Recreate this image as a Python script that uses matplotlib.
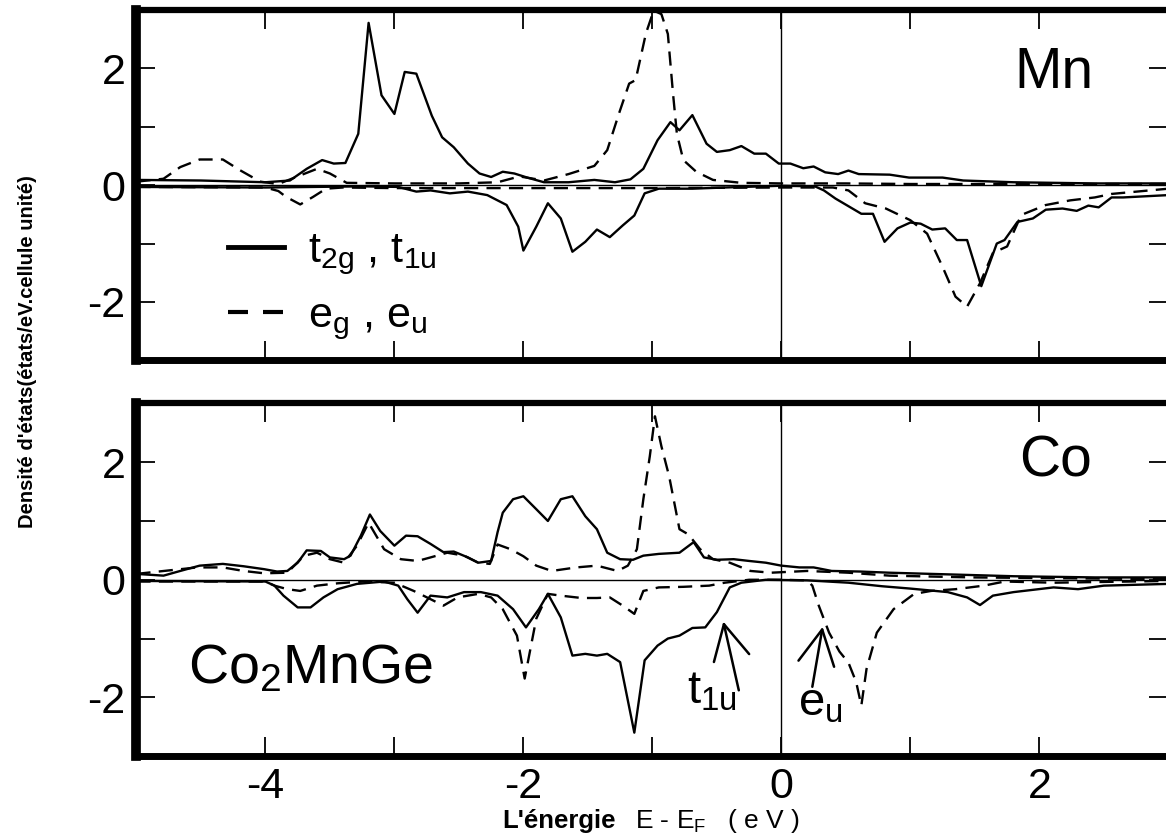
import matplotlib
matplotlib.use('Agg')
import matplotlib.pyplot as plt
from matplotlib.lines import Line2D
from matplotlib.ticker import MultipleLocator

plt.rcParams['font.family'] = ['Liberation Sans', 'DejaVu Sans']
plt.rcParams['mathtext.fontset'] = 'custom'
plt.rcParams['mathtext.rm'] = 'Liberation Sans'
plt.rcParams['mathtext.it'] = 'Liberation Sans'
plt.rcParams['mathtext.default'] = 'regular'
plt.rcParams['axes.unicode_minus'] = False

## ---- Mn : spin up (positive) and spin down (negative) ----
mn_t_up_x = [-5.0, -4.5, -4.0, -3.81, -3.68, -3.56, -3.47, -3.38, -3.28, -3.2, -3.1, -3.0, -2.92, -2.83,
             -2.71, -2.63, -2.54, -2.43, -2.34, -2.25, -2.16, -2.07, -1.97, -1.84, -1.65, -1.45, -1.29,
             -1.17, -1.07, -0.96, -0.86, -0.79, -0.69, -0.58, -0.5, -0.4, -0.31, -0.21, -0.12, -0.02,
             0.07, 0.17, 0.25, 0.34, 0.44, 0.52, 0.6, 0.84, 0.99, 1.25, 1.41, 1.8, 2.43, 3.0]
mn_t_up_y = [0.09, 0.08, 0.05, 0.08, 0.28, 0.43, 0.37, 0.38, 0.88, 2.78, 1.54, 1.22, 1.94, 1.91,
             1.19, 0.82, 0.65, 0.37, 0.2, 0.14, 0.23, 0.2, 0.13, 0.05, 0.05, 0.09, 0.05,
             0.1, 0.28, 0.77, 1.08, 0.94, 1.2, 0.71, 0.57, 0.6, 0.67, 0.54, 0.54, 0.37,
             0.37, 0.29, 0.32, 0.22, 0.19, 0.25, 0.19, 0.18, 0.13, 0.13, 0.08, 0.05, 0.03, 0.03]

mn_e_up_x = [-5.0, -4.79, -4.66, -4.51, -4.33, -4.2, -4.04, -3.9, -3.75, -3.6, -3.5, -3.37, -3.0, -2.5,
             -2.2, -2.03, -1.84, -1.65, -1.45, -1.35, -1.26, -1.18, -1.13, -1.05, -0.99, -0.93, -0.88,
             -0.84, -0.81, -0.76, -0.66, -0.53, -0.31, 0.0, 0.5, 1.0, 2.0, 3.0]
mn_e_up_y = [0.06, 0.11, 0.31, 0.44, 0.44, 0.26, 0.06, 0.02, 0.15, 0.28, 0.2, 0.04, 0.03, 0.03,
             0.05, 0.15, 0.08, 0.19, 0.33, 0.6, 1.22, 1.74, 1.8, 2.6, 2.99, 2.93, 2.59,
             1.57, 0.88, 0.43, 0.23, 0.09, 0.04, 0.03, 0.03, 0.02, 0.02, 0.02]

mn_t_dn_x = [-5.0, -4.0, -3.24, -2.97, -2.83, -2.72, -2.57, -2.43, -2.28, -2.13, -2.04, -2.0, -1.9,
             -1.81, -1.71, -1.62, -1.52, -1.43, -1.33, -1.23, -1.14, -1.06, -0.95, -0.69, -0.44, 0.0,
             0.26, 0.33, 0.42, 0.62, 0.71, 0.8, 0.9, 1.0, 1.08, 1.17, 1.27, 1.36, 1.44, 1.55, 1.67,
             1.73, 1.83, 1.95, 2.05, 2.18, 2.29, 2.38, 2.46, 2.56, 2.65, 3.0]
mn_t_dn_y = [-0.03, -0.04, -0.02, -0.03, -0.11, -0.09, -0.14, -0.11, -0.17, -0.34, -0.71, -1.12, -0.71,
             -0.31, -0.57, -1.14, -0.97, -0.76, -0.89, -0.69, -0.52, -0.14, -0.06, -0.06, -0.04, -0.01,
             -0.02, -0.09, -0.23, -0.49, -0.49, -0.97, -0.74, -0.64, -0.66, -0.76, -0.74, -0.94, -0.94,
             -1.73, -1.0, -0.94, -0.63, -0.57, -0.42, -0.4, -0.44, -0.35, -0.38, -0.21, -0.21, -0.17]

mn_e_dn_x = [-5.0, -4.0, -3.9, -3.84, -3.73, -3.63, -3.53, -3.4, -3.0, -2.0, -1.0, 0.0, 0.4, 0.52, 0.65,
             0.81, 1.0, 1.13, 1.25, 1.35, 1.44, 1.54, 1.64, 1.75, 1.86, 2.05, 2.24, 2.43, 2.56, 3.0]
mn_e_dn_y = [-0.03, -0.04, -0.1, -0.2, -0.33, -0.2, -0.06, -0.04, -0.05, -0.05, -0.05, -0.04, -0.04,
             -0.09, -0.31, -0.4, -0.6, -0.83, -1.4, -1.91, -2.08, -1.68, -1.16, -1.05, -0.51, -0.34,
             -0.26, -0.21, -0.15, -0.06]

## ---- Co ----
co_t_up_x = [-5.0, -4.79, -4.66, -4.51, -4.33, -4.17, -4.01, -3.91, -3.83, -3.75, -3.68, -3.57, -3.5,
             -3.39, -3.34, -3.26, -3.19, -3.11, -3.0, -2.91, -2.82, -2.72, -2.62, -2.54, -2.43, -2.35,
             -2.25, -2.2, -2.16, -2.08, -2.0, -1.9, -1.81, -1.71, -1.62, -1.52, -1.43, -1.35, -1.25,
             -1.15, -1.07, -0.95, -0.79, -0.68, -0.6, -0.5, -0.37, -0.25, -0.12, 0.0, 0.14, 0.25,
             0.39, 0.61, 0.84, 1.16, 1.48, 1.8, 2.43, 3.0]
co_t_up_y = [0.1, 0.07, 0.15, 0.24, 0.27, 0.23, 0.18, 0.14, 0.15, 0.29, 0.5, 0.49, 0.38,
             0.35, 0.41, 0.75, 1.11, 0.83, 0.58, 0.75, 0.74, 0.61, 0.47, 0.48, 0.38, 0.29,
             0.32, 0.81, 1.14, 1.37, 1.42, 1.2, 1.0, 1.37, 1.42, 1.08, 0.86, 0.46, 0.35,
             0.34, 0.41, 0.44, 0.46, 0.64, 0.38, 0.34, 0.35, 0.32, 0.29, 0.24, 0.21, 0.21,
             0.15, 0.14, 0.12, 0.1, 0.08, 0.06, 0.04, 0.04]

co_e_up_x = [-5.0, -4.53, -4.33, -4.17, -4.01, -3.83, -3.7, -3.6, -3.5, -3.39, -3.29, -3.2, -3.08,
             -2.95, -2.82, -2.72, -2.59, -2.46, -2.35, -2.26, -2.2, -2.1, -2.0, -1.9, -1.78, -1.59,
             -1.43, -1.27, -1.19, -1.12, -1.07, -1.02, -0.98, -0.93, -0.87, -0.79, -0.72, -0.63,
             -0.53, -0.4, -0.24, -0.08, 0.2, 0.52, 0.84, 1.48, 3.0]
co_e_up_y = [0.1, 0.21, 0.21, 0.15, 0.11, 0.12, 0.41, 0.46, 0.35, 0.29, 0.58, 0.97, 0.52,
             0.35, 0.32, 0.38, 0.46, 0.41, 0.29, 0.27, 0.6, 0.52, 0.4, 0.24, 0.15, 0.21,
             0.24, 0.15, 0.24, 0.52, 1.37, 2.1, 2.78, 2.27, 1.76, 0.86, 0.77, 0.52,
             0.35, 0.29, 0.15, 0.12, 0.15, 0.12, 0.07, 0.04, 0.01]

co_t_dn_x = [-5.0, -4.0, -3.93, -3.86, -3.75, -3.65, -3.55, -3.44, -3.29, -3.08, -2.97, -2.9, -2.82,
             -2.72, -2.59, -2.46, -2.33, -2.2, -2.08, -1.98, -1.88, -1.81, -1.71, -1.62, -1.52, -1.43,
             -1.35, -1.25, -1.14, -1.06, -0.96, -0.88, -0.79, -0.69, -0.59, -0.5, -0.4, -0.31, -0.12,
             0.2, 0.52, 0.78, 1.0, 1.29, 1.44, 1.54, 1.64, 1.8, 2.11, 2.3, 2.5, 3.0]
co_t_dn_y = [-0.02, -0.03, -0.1, -0.27, -0.47, -0.47, -0.3, -0.16, -0.07, -0.03, -0.1, -0.33, -0.56,
             -0.27, -0.3, -0.21, -0.21, -0.27, -0.5, -0.81, -0.5, -0.24, -0.64, -1.29, -1.26, -1.29,
             -1.26, -1.4, -2.6, -1.37, -1.12, -1.0, -0.95, -0.82, -0.81, -0.55, -0.13, -0.05, 0.0,
             -0.01, -0.05, -0.11, -0.15, -0.21, -0.3, -0.43, -0.27, -0.21, -0.13, -0.16, -0.1, -0.07]

co_e_dn_x = [-5.0, -4.0, -3.93, -3.83, -3.73, -3.6, -3.44, -3.24, -3.0, -2.85, -2.72, -2.62, -2.51,
             -2.35, -2.25, -2.16, -2.05, -1.99, -1.9, -1.81, -1.71, -1.55, -1.43, -1.33, -1.23, -1.14,
             -1.07, -0.95, -0.76, -0.56, -0.44, -0.25, 0.0, 0.2, 0.24, 0.29, 0.37, 0.45, 0.52, 0.58,
             0.62, 0.66, 0.74, 0.87, 1.03, 1.16, 1.35, 1.57, 1.73, 2.11, 3.0]
co_e_dn_y = [-0.03, -0.03, -0.1, -0.16, -0.19, -0.1, -0.06, -0.03, -0.05, -0.19, -0.33, -0.44, -0.3,
             -0.24, -0.3, -0.5, -0.95, -1.68, -0.66, -0.24, -0.27, -0.31, -0.31, -0.3, -0.44, -0.58,
             -0.19, -0.13, -0.12, -0.1, -0.05, 0.0, 0.0, -0.01, -0.1, -0.44, -0.9, -1.22, -1.41, -1.74,
             -2.14, -1.52, -0.9, -0.5, -0.24, -0.19, -0.16, -0.1, -0.03, -0.05, -0.02]

x_ticks = [-4, -2, 0, 2]
y_ticks = [-2, 0, 2]

solid = dict(color='k', lw=1.7)
dashed = dict(color='k', lw=1.7, linestyle=(0, (6, 3.5)))

fig = plt.figure(figsize=(11.66, 8.36), dpi=100)
ax1 = fig.add_axes([0.117, 0.569, 0.885, 0.419])
ax2 = fig.add_axes([0.117, 0.0955, 0.885, 0.422])

for ax in [ax1, ax2]:
    ax.set_xlim(-5, 3)
    ax.set_ylim(-3, 3)
    ax.axhline(0, color='k', lw=1.0)
    ax.axvline(0, color='k', lw=1.0)
    ax.set_xticks(x_ticks)
    ax.set_yticks(y_ticks)
    ax.xaxis.set_minor_locator(MultipleLocator(1))
    ax.yaxis.set_minor_locator(MultipleLocator(1))
    ax.tick_params(which='both', direction='in', length=14, width=1.3,
                   top=True, right=True, labelsize=31, pad=8)
    ax.spines['left'].set_linewidth(7)
    ax.spines['top'].set_linewidth(4.5)
    ax.spines['bottom'].set_linewidth(5)
    ax.spines['right'].set_visible(False)

ax1.tick_params(labelbottom=False)

# Mn
ax1.plot(mn_t_up_x, mn_t_up_y, **solid)
ax1.plot(mn_t_dn_x, mn_t_dn_y, **solid)
ax1.plot(mn_e_up_x, mn_e_up_y, **dashed)
ax1.plot(mn_e_dn_x, mn_e_dn_y, **dashed)
ax1.text(1.81, 1.66, 'Mn', fontsize=41, ha='left', va='baseline')

# legend
handles = [Line2D([], [], color='k', lw=3.5),
           Line2D([], [], color='k', lw=3, linestyle=(0, (4.8, 3.6)))]
ax1.legend(handles, ['t$_{2g}$ , t$_{1u}$', 'e$_g$ , e$_u$'], loc='upper left',
           bbox_to_anchor=(0.089, 0.37), frameon=False, fontsize=31, handlelength=1.3,
           handletextpad=0.55, borderpad=0, borderaxespad=0, labelspacing=0.45)

# Co
ax2.plot(co_t_up_x, co_t_up_y, **solid)
ax2.plot(co_t_dn_x, co_t_dn_y, **solid)
ax2.plot(co_e_up_x, co_e_up_y, **dashed)
ax2.plot(co_e_dn_x, co_e_dn_y, **dashed)
ax2.text(1.84, 1.75, 'Co', fontsize=41, ha='left', va='baseline')
ax2.text(-4.6, -1.76, 'Co$_2$MnGe', fontsize=40, ha='left', va='baseline')

## arrows marking the band edges
arrow = dict(arrowstyle='->,head_length=1.25,head_width=0.65', lw=1.8, color='k',
             mutation_scale=20, shrinkA=0, shrinkB=0)
ax2.annotate('', xy=(-0.45, -0.71), xytext=(-0.33, -1.88), arrowprops=arrow)
ax2.annotate('', xy=(0.32, -0.8), xytext=(0.24, -1.82), arrowprops=arrow)
ax2.text(-0.73, -2.1, 't$_{1u}$', fontsize=34, ha='left', va='baseline')
ax2.text(0.13, -2.3, 'e$_u$', fontsize=34, ha='left', va='baseline')

fig.text(0.431, 0.009, "L'énergie", fontsize=18.5, fontweight='bold', ha='left', va='baseline')
fig.text(0.545, 0.009, "E - E$_F$   ( e V )", fontsize=19, ha='left', va='baseline')
fig.text(0.024, 0.58, "Densité d'états(états/eV.cellule unité)", fontsize=14.5,
         fontweight='bold', rotation=90, ha='center', va='center')

fig.savefig('out.png', dpi=100)
